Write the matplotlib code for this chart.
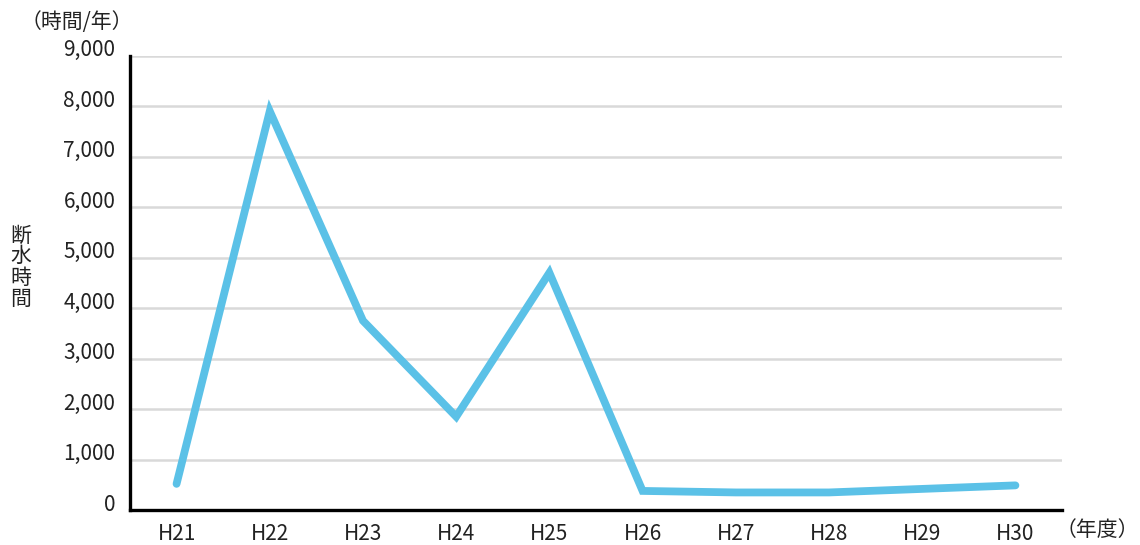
import matplotlib.pyplot as plt
import matplotlib.transforms as mtransforms

plt.rcParams['font.family'] = ['Noto Sans CJK JP', 'DejaVu Sans']

# 年度と断水時間
years = ['H21', 'H22', 'H23', 'H24', 'H25', 'H26', 'H27', 'H28', 'H29', 'H30']
hours = [520, 7900, 3750, 1850, 4700, 380, 350, 350, 420, 490]
yticks = [0, 1000, 2000, 3000, 4000, 5000, 6000, 7000, 8000, 9000]

fig = plt.figure(figsize=(11.4, 5.45), dpi=100)
ax = fig.add_axes([0.114, 0.064, 0.8176, 0.834])

ax.plot(range(len(years)), hours, color='#5bc1e7', linewidth=5.6,
        solid_capstyle='round', solid_joinstyle='miter', zorder=3)

ax.set_xlim(-0.5, 9.5)
ax.set_ylim(0, 9000)
ax.set_xticks(range(len(years)))
ax.set_xticklabels(years, fontsize=15, color='#222222')
ax.set_yticks(yticks)
ax.set_yticklabels([f'{v:,}' for v in yticks], fontsize=15, color='#222222')
ax.tick_params(length=0, pad=10.5)
ax.tick_params(axis='x', pad=9)

# ラベルを少し上へずらす
off = mtransforms.ScaledTranslation(0, 8 / 100, fig.dpi_scale_trans)
for lab in ax.get_yticklabels():
    lab.set_transform(lab.get_transform() + off)

ax.grid(axis='y', color='#d9d9d9', linewidth=1.8)
ax.set_axisbelow(True)
for s in ['top', 'right']:
    ax.spines[s].set_visible(False)
ax.spines['left'].set_linewidth(2.4)
ax.spines['bottom'].set_linewidth(2.4)

fig.text(0.018, 0.96, '（時間/年）', fontsize=15, color='#222222', va='center')
fig.text(0.018, 0.51, '断\n水\n時\n間', fontsize=15, color='#222222',
         ha='center', va='center', linespacing=0.95)
fig.text(0.999, 0.027, '（年度）', fontsize=15, color='#222222',
         ha='right', va='center')

fig.savefig('out.png', dpi=100)
